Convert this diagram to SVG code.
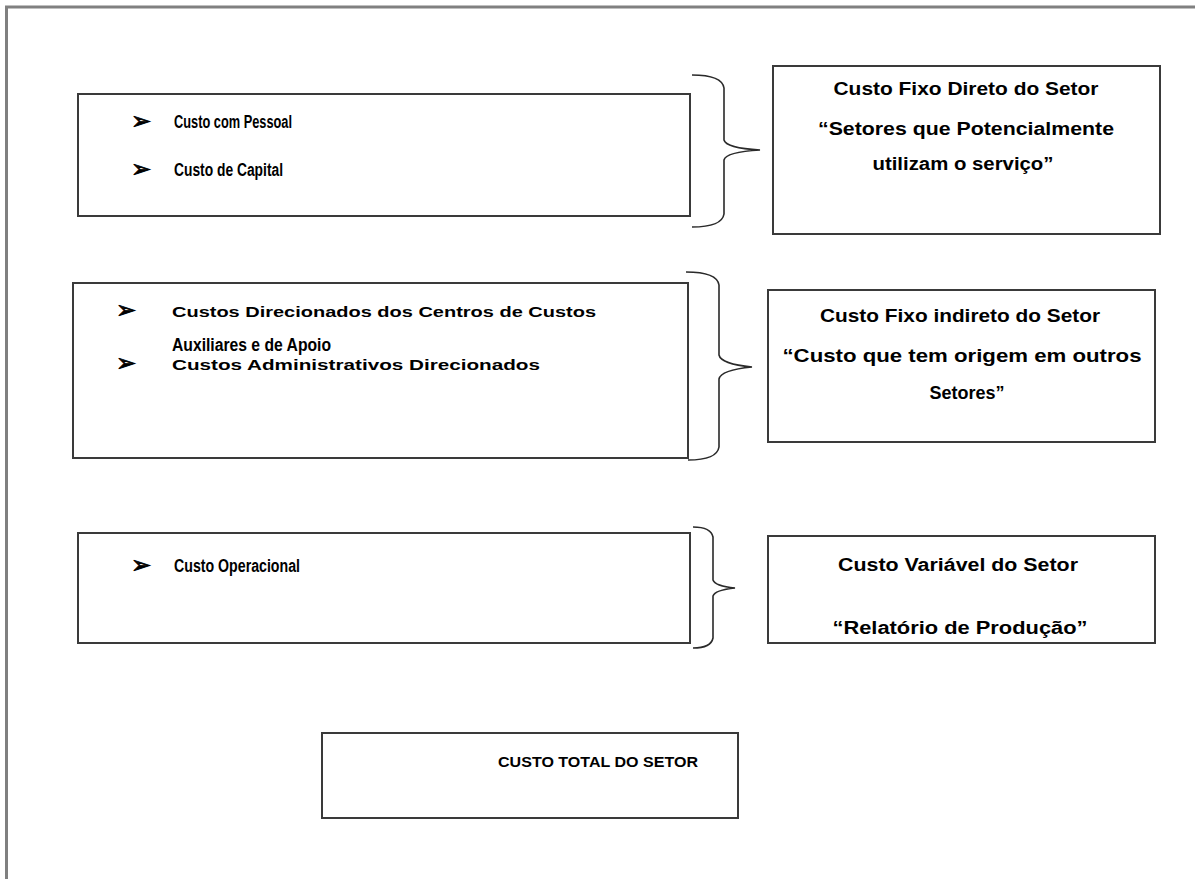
<svg xmlns="http://www.w3.org/2000/svg" width="1195" height="879" viewBox="0 0 1195 879">
<style>
.frame{fill:none;stroke:#808080;stroke-width:3}
.box{fill:#fff;stroke:#3a3a3a;stroke-width:2}
.brace{fill:none;stroke:#2a2a2a;stroke-width:1.6}
.t{font-family:"Liberation Sans",Arial,sans-serif;font-weight:bold;fill:#000;font-size:18px}
.ts{font-family:"Liberation Sans",Arial,sans-serif;font-weight:bold;fill:#000;font-size:15px}
.b{font-family:"DejaVu Sans",sans-serif;font-weight:bold;fill:#000;stroke:#000;stroke-width:0.8;font-size:24px}
.c{text-anchor:middle}
</style>
<rect width="1195" height="879" fill="#fff"/>
<g id="frame">
<path class="frame" d="M6.5,879 L6.5,7 L1195,7"/>
</g>
<g id="connectors">
<path class="brace" d="M692,75 Q722,75 724,88 L724,140 Q726,148 760,150 Q726,152 724,160 L724,214 Q722,227 692,227"/>
<path class="brace" d="M686,272 Q717,272 719,285 L719,355 Q721,364 752,367 Q721,370 719,379 L719,447 Q717,460 688,460"/>
<path class="brace" d="M693,527 Q711,527 713,537 L713,580 Q715,586 735,588 Q715,590 713,596 L713,638 Q711,648 693,648"/>
</g>
<g id="box-pessoal">
<rect class="box" x="78" y="94" width="612" height="122"/>
<text class="b" x="131" y="129">➢</text>
<text class="t" x="174" y="128" textLength="118" lengthAdjust="spacingAndGlyphs">Custo com Pessoal</text>
<text class="b" x="131" y="177">➢</text>
<text class="t" x="174" y="176" textLength="109" lengthAdjust="spacingAndGlyphs">Custo de Capital</text>
</g>
<g id="box-fixo-direto">
<rect class="box" x="773" y="66" width="387" height="168"/>
<text class="t c" x="966" y="95" textLength="265" lengthAdjust="spacingAndGlyphs">Custo Fixo Direto do Setor</text>
<text class="t c" x="966" y="135" textLength="296" lengthAdjust="spacingAndGlyphs">“Setores que Potencialmente</text>
<text class="t c" x="963" y="170" textLength="181" lengthAdjust="spacingAndGlyphs">utilizam o serviço”</text>
</g>
<g id="box-direcionados">
<rect class="box" x="73" y="283" width="615" height="175"/>
<text class="b" x="116" y="318" font-size="20">➢</text>
<text class="ts" x="172" y="317" textLength="424" lengthAdjust="spacingAndGlyphs">Custos Direcionados dos Centros de Custos</text>
<text class="t" x="172" y="351" textLength="159" lengthAdjust="spacingAndGlyphs">Auxiliares e de Apoio</text>
<text class="b" x="116" y="371" font-size="20">➢</text>
<text class="ts" x="172" y="370" textLength="368" lengthAdjust="spacingAndGlyphs">Custos Administrativos Direcionados</text>
</g>
<g id="box-fixo-indireto">
<rect class="box" x="768" y="290" width="387" height="152"/>
<text class="t c" x="960" y="322" textLength="280" lengthAdjust="spacingAndGlyphs">Custo Fixo indireto do Setor</text>
<text class="t c" x="962" y="362" textLength="359" lengthAdjust="spacingAndGlyphs">“Custo que tem origem em outros</text>
<text class="t c" x="967" y="399" textLength="75" lengthAdjust="spacingAndGlyphs">Setores”</text>
</g>
<g id="box-operacional">
<rect class="box" x="78" y="533" width="612" height="110"/>
<text class="b" x="131" y="573">➢</text>
<text class="t" x="174" y="572" textLength="126" lengthAdjust="spacingAndGlyphs">Custo Operacional</text>
</g>
<g id="box-variavel">
<rect class="box" x="768" y="536" width="387" height="107"/>
<text class="t c" x="958" y="571" textLength="240" lengthAdjust="spacingAndGlyphs">Custo Variável do Setor</text>
<text class="t c" x="960" y="634" textLength="255" lengthAdjust="spacingAndGlyphs">“Relatório de Produção”</text>
</g>
<g id="box-total">
<rect class="box" x="322" y="733" width="416" height="85"/>
<text class="ts" x="498" y="767" textLength="200" lengthAdjust="spacingAndGlyphs">CUSTO TOTAL DO SETOR</text>
</g>
</svg>
